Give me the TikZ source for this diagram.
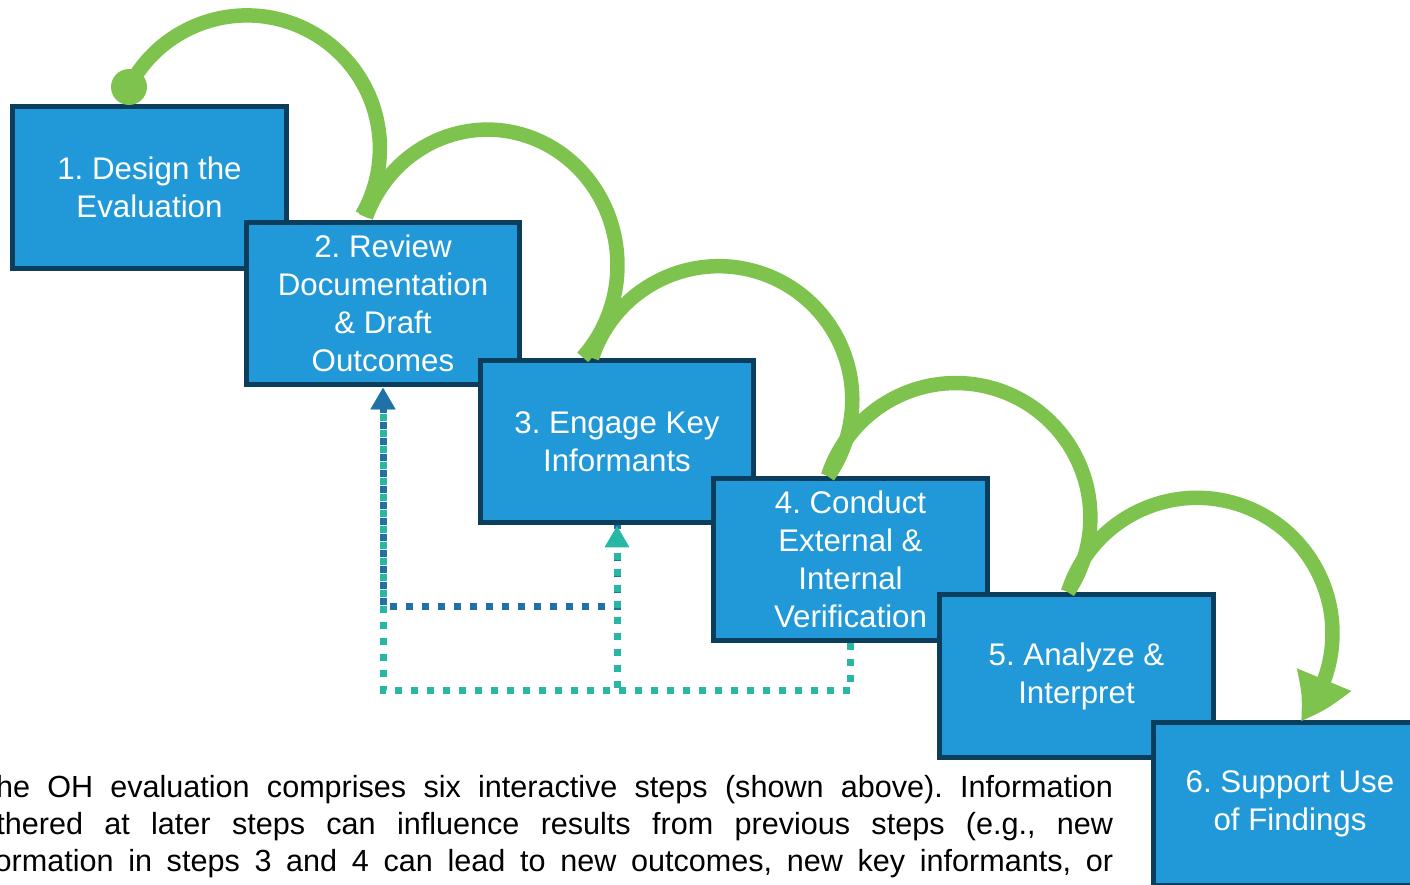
\documentclass[tikz,border=0pt]{standalone}
\usepackage{fontspec}
\setmainfont{Liberation Sans}
\frenchspacing
\usetikzlibrary{arrows.meta,bending}

\definecolor{stepblue}{RGB}{33,153,217}
\definecolor{stepedge}{RGB}{11,62,92}
\definecolor{arcgreen}{RGB}{125,195,78}
\definecolor{loopteal}{RGB}{40,183,165}
\definecolor{loopblue}{RGB}{31,113,166}

\begin{document}
\begin{tikzpicture}[x=0.02cm,y=-0.02cm,
                stage box/.style={draw=stepedge, fill=stepblue, line width=0.1cm,
                  minimum width=5.48cm, minimum height=3.26cm, inner sep=0pt,
                  text=white, align=center, font=\fontsize{17.8}{21.7}\selectfont},
                green arc/.style={draw=arcgreen, line width=0.29cm},
                back loop/.style={line width=0.14cm, dash pattern=on 0.14cm off 0.18cm,
                  -{Triangle[width=0.47cm,length=0.44cm]}}]

  \path[use as bounding box, clip] (0,0) rectangle (1410,885);

  \node[stage box] (s1) at (149.5,187.5) {1. Design the\\Evaluation};
  \node[stage box] (s2) at (383,303.5) {2. Review\\Documentation\\\& Draft\\Outcomes};
  \node[stage box] (s3) at (617,441.5) {3. Engage Key\\Informants};
  \node[stage box] (s4) at (850.5,559.5) {4. Conduct\\External \&\\Internal\\Verification};
  \node[stage box] (s5) at (1076.5,676) {5. Analyze \&\\Interpret};
  \node[stage box] (s6) at (1290,804) {6. Support Use\\of Findings};

  \coordinate (p1) at (129,87);
  \coordinate (p2) at (366,217);
  \coordinate (p3) at (592,358);
  \coordinate (p4) at (828,476);
  \coordinate (p5) at (1068,592);
  \coordinate (fork) at (617,688);

  \draw[back loop, loopteal] (s4.south) -- ++(0,47) -| (s2.south);
  \draw[back loop, loopblue, dash phase=0.06cm] (s3.south) -- ++(0,81) -| (s2.south);
  \draw[back loop, loopteal] (fork) -- (s3.south);

  \fill[arcgreen] (p1) circle (0.36cm);
  \draw[green arc] (p1) arc[start angle=152.5, end angle=-30, radius=2.66cm];
  \draw[green arc] (p2) arc[start angle=159.2, end angle=-42.9, x radius=2.6cm, y radius=2.71cm];
  \draw[green arc] (p3) arc[start angle=161.8, end angle=-35.1, radius=2.67cm];
  \draw[green arc] (p4) arc[start angle=162, end angle=-33.7, radius=2.69cm];
  \draw[green arc, -{Triangle[width=1.1cm,length=0.97cm,bend]}]
    (p5) arc[start angle=162.25, end angle=-40.4, radius=2.71cm];

  \node[anchor=base west, inner sep=0pt, font=\fontsize{17.4}{21.3}\selectfont] (note) at (-38,797)
    {\parbox[t]{23.02cm}{\parfillskip=0pt
     \hspace*{0.3cm}The OH evaluation comprises six interactive steps (shown above). Information\linebreak
     gathered at later steps can influence results from previous steps (e.g., new\linebreak
     information in steps 3 and 4 can lead to new outcomes, new key informants, or}};
\end{tikzpicture}
\end{document}
